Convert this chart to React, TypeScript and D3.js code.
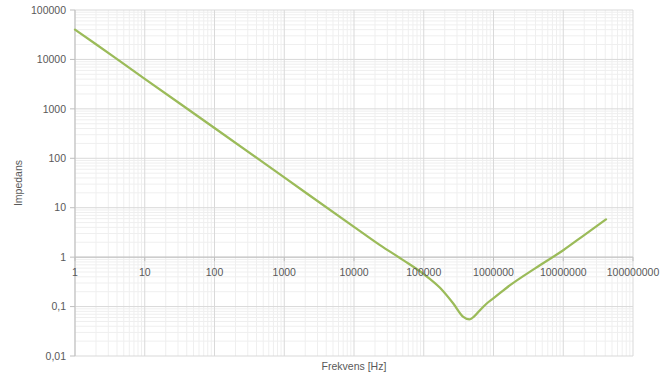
import React from "react";
import * as d3 from "d3";

const freqHz = [1, 2, 5, 10, 100, 1000, 10000, 23600, 50000, 98600, 171000, 265000, 369000, 450000, 520000, 640000, 800000, 994000, 1730000, 4000000, 10000000, 20000000, 41000000];
const impedance = [40000, 20300, 8100, 4050, 410, 41, 4.1, 1.75, 0.88, 0.46, 0.24, 0.1155, 0.0619, 0.0548, 0.062, 0.0846, 0.1155, 0.146, 0.271, 0.6, 1.38, 2.8, 5.8];
const xTicks = [1, 10, 100, 1000, 10000, 100000, 1000000, 10000000, 100000000];
const yTicks = [0.01, 0.1, 1, 10, 100, 1000, 10000, 100000];
const yTickLabels = ["0,01", "0,1", "1", "10", "100", "1000", "10000", "100000"];

const W = 671, H = 382;
const left = 75, right = 633, top = 10, bottom = 356;

export default function App() {
  const x = d3.scaleLog().domain([1, 1e8]).range([left, right]);
  const y = d3.scaleLog().domain([0.01, 100000]).range([bottom, top]);

  const minorX: number[] = [];
  for (let d = 0; d < 8; d++) for (let k = 2; k <= 9; k++) minorX.push(k * Math.pow(10, d));
  const minorY: number[] = [];
  for (let d = -2; d < 5; d++) for (let k = 2; k <= 9; k++) minorY.push(k * Math.pow(10, d));

  const pts = freqHz.map((f, i) => [f, impedance[i]] as [number, number]);
  const line = d3.line<[number, number]>().x(d => x(d[0])).y(d => y(d[1])).curve(d3.curveMonotoneX);

  const font = "'Liberation Sans', Arial, sans-serif";
  const axisY = y(1);

  return (
    <svg width={W} height={H} style={{ position: "absolute", left: 0, top: 0, background: "#fff" }}>
      <rect x={0} y={0} width={W} height={H} fill="#fff" />
      {minorY.map((v, i) => (
        <line key={"my" + i} x1={left} x2={right} y1={y(v)} y2={y(v)} stroke="#efefef" strokeWidth={1} />
      ))}
      {minorX.map((v, i) => (
        <line key={"mx" + i} x1={x(v)} x2={x(v)} y1={top} y2={bottom} stroke="#efefef" strokeWidth={1} />
      ))}
      {yTicks.map((v, i) => (
        <line key={"gy" + i} x1={left} x2={right} y1={y(v)} y2={y(v)} stroke="#d9d9d9" strokeWidth={1} />
      ))}
      {xTicks.map((v, i) => (
        <line key={"gx" + i} x1={x(v)} x2={x(v)} y1={top} y2={bottom} stroke="#d9d9d9" strokeWidth={1} />
      ))}
      <line x1={left} x2={left} y1={top} y2={bottom} stroke="#bfbfbf" strokeWidth={1} />
      {yTicks.map((v, i) => (
        <line key={"ty" + i} x1={left - 5} x2={left} y1={y(v)} y2={y(v)} stroke="#bfbfbf" strokeWidth={1} />
      ))}
      <line x1={left} x2={right} y1={axisY} y2={axisY} stroke="#bfbfbf" strokeWidth={1} />
      {xTicks.map((v, i) => (
        <line key={"tx" + i} x1={x(v)} x2={x(v)} y1={axisY} y2={axisY + 4} stroke="#bfbfbf" strokeWidth={1} />
      ))}
      <path d={line(pts) || ""} fill="none" stroke="#9bbb59" strokeWidth={2.25} strokeLinejoin="round" strokeLinecap="round" />
      {yTicks.map((v, i) => (
        <text key={"ly" + i} x={left - 9} y={y(v)} dy="0.35em" textAnchor="end" fontFamily={font} fontSize={10.5} fill="#595959">
          {yTickLabels[i]}
        </text>
      ))}
      {xTicks.map((v, i) => (
        <text key={"lx" + i} x={x(v)} y={axisY + 15} dy="0.35em" textAnchor="middle" fontFamily={font} fontSize={10.5} fill="#595959">
          {String(v)}
        </text>
      ))}
      <text x={354} y={366} dy="0.35em" textAnchor="middle" fontFamily={font} fontSize={10.5} fill="#595959">
        Frekvens [Hz]
      </text>
      <text transform={`translate(18,183) rotate(-90)`} dy="0.35em" textAnchor="middle" fontFamily={font} fontSize={10.5} fill="#595959">
        Impedans
      </text>
    </svg>
  );
}
